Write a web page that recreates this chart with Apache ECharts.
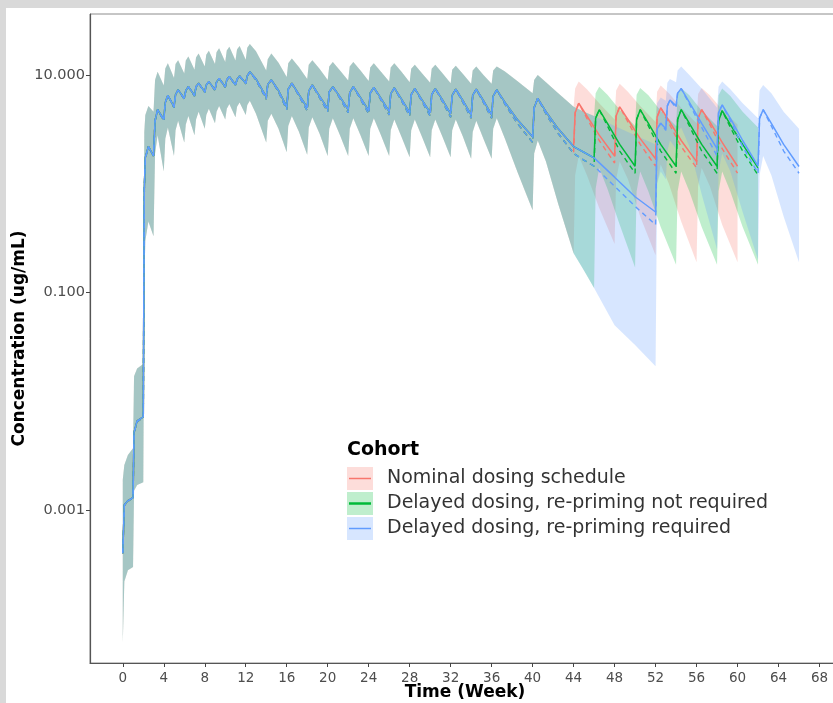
<!DOCTYPE html>
<html>
<head>
<meta charset="utf-8">
<script src="https://cdn.jsdelivr.net/npm/echarts@6/dist/echarts.min.js"></script>
<style>
  html, body { margin: 0; padding: 0; background: #ffffff; }
  #chart { width: 833px; height: 703px; }
</style>
</head>
<body>
<div id="chart"></div>
<script>
// Axis ticks
const xTicks = [0, 4, 8, 12, 16, 20, 24, 28, 32, 36, 40, 44, 48, 52, 56, 60, 64, 68];
const yTicks = [0.001, 0.1, 10];

// Common profile for all cohorts up to week 44 (priming, weekly, q2w, q4w)
const sharedTime = [
  0, 0.15, 0.5, 1.0, 1.1, 1.4, 2.0, 2.1, 2.2, 2.5,
  3.0, 3.15, 3.4, 4.0, 4.15, 4.4, 5.0, 5.15, 5.4, 6.0, 6.15, 6.4, 7.0, 7.15, 7.4,
  8.0, 8.15, 8.4, 9.0, 9.15, 9.4, 10.0, 10.15, 10.4, 11.0, 11.15, 11.4,
  12.0, 12.15, 12.4, 13.0, 14.0, 14.15, 14.5, 15.2, 16.0, 16.15, 16.5, 17.2,
  18.0, 18.15, 18.5, 19.2, 20.0, 20.15, 20.5, 21.2, 22.0, 22.15, 22.5, 23.2,
  24.0, 24.15, 24.5, 25.2, 26.0, 26.15, 26.5, 27.2, 28.0, 28.15, 28.5, 29.2,
  30.0, 30.15, 30.5, 31.2, 32.0, 32.15, 32.5, 33.2, 34.0, 34.15, 34.5, 35.2,
  36.0, 36.15, 36.5, 37.3, 38.5, 40.0, 40.15, 40.5, 41.3, 42.5, 44.0
];
const sharedMedian = [
  0.0004, 0.00112, 0.00122, 0.0013, 0.0052, 0.0066, 0.0072, 0.9, 1.75, 2.2,
  1.8, 3.8, 4.8, 3.9, 5.6, 6.5, 5.1, 6.6, 7.3, 6.1, 7.2, 7.8, 6.5, 7.8, 8.4,
  7.0, 8.1, 8.7, 7.3, 8.6, 9.3, 7.8, 9.0, 9.7, 8.1, 9.1, 9.8,
  8.4, 9.8, 10.7, 9.2, 6.3, 8.2, 9.0, 7.2, 5.1, 7.4, 8.4, 6.6,
  5.0, 7.1, 8.1, 6.4, 4.9, 7.0, 7.8, 6.3, 4.8, 6.9, 7.8, 6.2,
  4.7, 6.8, 7.7, 6.1, 4.6, 6.7, 7.6, 6.0, 4.5, 6.6, 7.5, 5.9,
  4.5, 6.6, 7.5, 5.9, 4.4, 6.5, 7.4, 5.8, 4.3, 6.5, 7.4, 5.8,
  4.3, 6.4, 7.3, 5.6, 3.9, 2.7, 5.0, 6.1, 4.6, 3.2, 2.2
];
const sharedDashed = [
  0.0004, 0.0011, 0.0012, 0.0013, 0.0051, 0.0065, 0.0071, 0.9, 1.7, 2.2,
  1.8, 3.8, 4.8, 3.8, 5.6, 6.5, 5.0, 6.6, 7.3, 6.0, 7.2, 7.8, 6.4, 7.8, 8.4,
  6.9, 8.1, 8.7, 7.2, 8.6, 9.3, 7.7, 9.0, 9.7, 8.0, 9.1, 9.8,
  8.3, 9.8, 10.7, 9.0, 6.0, 8.2, 9.0, 7.0, 4.8, 7.4, 8.4, 6.4,
  4.7, 7.1, 8.1, 6.2, 4.6, 7.0, 7.8, 6.1, 4.5, 6.9, 7.8, 6.0,
  4.4, 6.8, 7.7, 5.9, 4.3, 6.7, 7.6, 5.8, 4.2, 6.6, 7.5, 5.7,
  4.2, 6.6, 7.5, 5.7, 4.1, 6.5, 7.4, 5.6, 4.0, 6.5, 7.4, 5.6,
  4.0, 6.4, 7.3, 5.4, 3.6, 2.4, 5.0, 6.1, 4.4, 2.9, 1.9
];
const sharedLow = [
  0.00006, 0.00022, 0.00028, 0.0003, 0.0015, 0.0017, 0.0018, 0.12, 0.30, 0.45,
  0.33, 1.9, 2.8, 1.3, 2.6, 3.3, 1.8, 3.1, 3.8, 2.4, 3.5, 4.2, 2.8, 3.9, 4.6,
  3.2, 4.3, 4.9, 3.6, 4.6, 5.2, 3.9, 4.9, 5.4, 4.1, 5.1, 5.6,
  4.3, 5.3, 5.8, 4.4, 2.4, 3.8, 4.4, 3.2, 1.95, 3.4, 4.2, 3.0,
  1.85, 3.3, 4.1, 2.9, 1.8, 3.2, 4.0, 2.8, 1.8, 3.2, 4.0, 2.8,
  1.8, 3.2, 4.0, 2.8, 1.8, 3.1, 3.9, 2.7, 1.75, 3.1, 3.9, 2.7,
  1.75, 3.1, 3.9, 2.7, 1.75, 3.1, 3.9, 2.7, 1.7, 3.0, 3.8, 2.6,
  1.7, 3.2, 4.0, 2.6, 1.3, 0.57, 1.9, 2.5, 1.6, 0.65, 0.23
];
const sharedHigh = [
  0.0019, 0.0026, 0.0032, 0.0037, 0.017, 0.020, 0.022, 3.0, 4.3, 5.2,
  4.6, 9.0, 10.7, 8.0, 11.5, 12.8, 9.4, 12.6, 13.7, 10.3, 13.6, 14.8, 11.2, 14.5, 15.8,
  12.0, 15.4, 16.7, 12.6, 16.2, 17.6, 13.2, 16.8, 18.2, 13.6, 17.2, 18.5,
  13.8, 17.8, 19.3, 16.5, 11.0, 14.0, 15.8, 13.0, 9.6, 12.8, 14.2, 11.8,
  9.2, 12.4, 13.7, 11.4, 9.0, 12.0, 13.2, 11.0, 8.9, 12.0, 13.2, 11.0,
  8.8, 11.7, 12.8, 10.7, 8.7, 11.7, 12.8, 10.7, 8.6, 11.4, 12.4, 10.4,
  8.5, 11.4, 12.4, 10.4, 8.4, 11.2, 12.2, 10.2, 8.3, 11.0, 12.0, 10.0,
  8.3, 11.0, 12.0, 10.8, 8.8, 6.8, 9.0, 10.0, 8.6, 6.8, 5.1
];

// Nominal dosing schedule after week 44
const nominalTime = [44.15, 44.5, 45.3, 46.5, 48.0, 48.15, 48.5, 49.3, 50.5, 52.0,
  52.15, 52.5, 53.3, 54.5, 56.0, 56.15, 56.5, 57.3, 58.5, 60.0];
const nominalMedian = [4.5, 5.5, 4.2, 2.8, 1.8, 4.2, 5.1, 3.9, 2.6, 1.7,
  4.1, 5.0, 3.8, 2.5, 1.6, 4.0, 4.8, 3.7, 2.4, 1.45];
const nominalDashed = [4.5, 5.5, 4.0, 2.5, 1.55, 4.2, 5.1, 3.7, 2.3, 1.45,
  4.1, 5.0, 3.6, 2.2, 1.4, 4.0, 4.8, 3.5, 2.1, 1.25];
const nominalLow = [1.2, 1.8, 1.2, 0.6, 0.28, 1.1, 1.6, 1.1, 0.5, 0.22,
  1.0, 1.5, 1.0, 0.45, 0.19, 0.95, 1.4, 0.95, 0.42, 0.19];
const nominalHigh = [7.5, 8.7, 7.4, 5.5, 3.9, 7.2, 8.3, 7.0, 5.2, 3.7,
  7.0, 8.0, 6.8, 5.0, 3.6, 6.7, 7.6, 6.5, 4.8, 3.5];

// Delayed dosing, re-priming not required
const delayedTime = [45.0, 46.0, 46.15, 46.5, 47.3, 48.5, 50.0, 50.15, 50.5, 51.3, 52.5, 54.0,
  54.15, 54.5, 55.3, 56.5, 58.0, 58.15, 58.5, 59.3, 60.5, 62.0];
const delayedMedian = [1.95, 1.73, 4.0, 4.8, 3.6, 2.3, 1.45, 3.9, 4.8, 3.6, 2.3, 1.45,
  3.9, 4.8, 3.6, 2.3, 1.45, 3.8, 4.7, 3.5, 2.3, 1.4];
const delayedDashed = [1.65, 1.45, 4.0, 4.8, 3.4, 2.0, 1.25, 3.9, 4.8, 3.4, 2.0, 1.25,
  3.9, 4.8, 3.4, 2.0, 1.25, 3.8, 4.7, 3.3, 2.0, 1.2];
const delayedLow = [0.16, 0.11, 0.9, 1.4, 0.9, 0.42, 0.17, 0.85, 1.3, 0.85, 0.4, 0.18,
  0.85, 1.3, 0.85, 0.4, 0.18, 0.85, 1.3, 0.85, 0.4, 0.18];
const delayedHigh = [4.6, 4.2, 6.8, 7.8, 6.6, 4.8, 3.4, 6.6, 7.6, 6.5, 4.7, 3.4,
  6.6, 7.6, 6.5, 4.7, 3.4, 6.5, 7.5, 6.4, 4.6, 3.3];

// Delayed dosing, re-priming required
const reprimeTime = [45.0, 46.0, 48.0, 50.0, 52.0, 52.15, 52.5, 53.0, 53.15, 53.4, 54.0,
  54.15, 54.5, 55.3, 56.5, 58.0, 58.15, 58.5, 59.3, 60.5, 62.0,
  62.15, 62.5, 63.3, 64.5, 66.0];
const reprimeMedian = [1.95, 1.73, 1.15, 0.76, 0.55, 3.2, 3.6, 3.2, 5.2, 5.9, 5.2,
  6.8, 7.5, 5.6, 3.6, 2.1, 4.5, 5.3, 4.0, 2.5, 1.45,
  4.0, 4.8, 3.6, 2.3, 1.44];
const reprimeDashed = [1.65, 1.45, 0.95, 0.62, 0.42, 3.2, 3.6, 3.1, 5.2, 5.9, 5.0,
  6.8, 7.5, 5.4, 3.3, 1.8, 4.5, 5.3, 3.8, 2.2, 1.25,
  4.0, 4.8, 3.4, 2.0, 1.25];
const reprimeLow = [0.16, 0.11, 0.05, 0.033, 0.021, 1.0, 1.3, 1.1, 2.0, 2.5, 2.1,
  3.0, 3.3, 2.2, 0.8, 0.25, 1.3, 1.9, 1.3, 0.55, 0.2,
  1.2, 1.8, 1.2, 0.5, 0.19];
const reprimeHigh = [4.6, 4.2, 3.4, 2.8, 2.3, 5.5, 6.2, 5.8, 8.5, 9.2, 8.6,
  11.0, 12.0, 10.0, 7.5, 5.0, 7.8, 8.7, 7.4, 5.5, 4.0,
  7.2, 8.1, 6.8, 4.6, 3.2];

const cohortNames = [
  'Nominal dosing schedule',
  'Delayed dosing, re-priming not required',
  'Delayed dosing, re-priming required'
];
const cohortColors = ['#F8766D', '#00BA38', '#619CFF'];
const cohortFills = ['rgba(248,118,109,0.25)', 'rgba(0,186,56,0.25)', 'rgba(97,156,255,0.25)'];

const cohorts = [
  { t: nominalTime, med: nominalMedian, dash: nominalDashed, lo: nominalLow, hi: nominalHigh },
  { t: delayedTime, med: delayedMedian, dash: delayedDashed, lo: delayedLow, hi: delayedHigh },
  { t: reprimeTime, med: reprimeMedian, dash: reprimeDashed, lo: reprimeLow, hi: reprimeHigh }
].map(c => ({
  t: sharedTime.concat(c.t),
  med: sharedMedian.concat(c.med),
  dash: sharedDashed.concat(c.dash),
  lo: sharedLow.concat(c.lo),
  hi: sharedHigh.concat(c.hi)
}));

function ribbon(c, fill, name) {
  return {
    type: 'custom',
    name: name + ' band',
    coordinateSystem: 'cartesian2d',
    silent: true,
    clip: true,
    z: 1,
    data: [[c.t[0], c.hi[0]]],
    renderItem: function (params, api) {
      const pts = [];
      for (let i = 0; i < c.t.length; i++) pts.push(api.coord([c.t[i], c.hi[i]]));
      for (let i = c.t.length - 1; i >= 0; i--) pts.push(api.coord([c.t[i], c.lo[i]]));
      return { type: 'polygon', shape: { points: pts }, style: { fill: fill, stroke: null } };
    }
  };
}

function line(t, v, color, dashed, name) {
  return {
    type: 'line',
    name: name,
    data: t.map((x, i) => [x, v[i]]),
    showSymbol: false,
    silent: true,
    z: 3,
    color: color,
    lineStyle: { color: color, width: dashed ? 1.4 : 1.5, type: dashed ? [5, 4] : 'solid' },
    emphasis: { disabled: true },
    animation: false
  };
}

const series = [];
cohorts.forEach((c, k) => series.push(ribbon(c, cohortFills[k], cohortNames[k])));
cohorts.forEach((c, k) => {
  series.push(line(c.t, c.dash, cohortColors[k], true, cohortNames[k] + ' (dashed)'));
  series.push(line(c.t, c.med, cohortColors[k], false, cohortNames[k]));
});

// Legend drawn as swatches with a centre line
const legendGraphics = [
  { type: 'text', left: 347, top: 441, style: { text: 'Cohort', font: 'bold 19px "DejaVu Sans"', fill: '#000' } }
];
cohortNames.forEach((n, i) => {
  const y = 467 + i * 25;
  legendGraphics.push({ type: 'rect', shape: { x: 347, y: y, width: 26, height: 23 }, style: { fill: cohortFills[i] } });
  legendGraphics.push({ type: 'line', shape: { x1: 349, y1: y + 11.5, x2: 371, y2: y + 11.5 }, style: { stroke: cohortColors[i], lineWidth: i === 1 ? 2.5 : 1.5 } });
  legendGraphics.push({ type: 'text', left: 387, top: y + 2, style: { text: n, font: '19px "DejaVu Sans"', fill: '#333' } });
});

const chart = echarts.init(document.getElementById('chart'), null, { renderer: 'canvas' });
chart.setOption({
  animation: false,
  backgroundColor: '#ffffff',
  grid: {
    left: 90, top: 14, width: 750, bottom: 40,
    outerBoundsMode: 'none', containLabel: false,
    show: true, borderColor: '#8c8c8c', borderWidth: 1, backgroundColor: 'transparent'
  },
  xAxis: {
    type: 'value', min: -3.2, max: 70,
    name: 'Time (Week)', nameLocation: 'middle', nameGap: 21, nameMoveOverlap: false,
    nameTextStyle: { fontFamily: 'DejaVu Sans', fontWeight: 'bold', fontSize: 17, color: '#000' },
    axisLine: { show: true, onZero: false, lineStyle: { color: '#555', width: 1.2 } },
    axisTick: { show: true, length: 4, customValues: xTicks, lineStyle: { color: '#444' } },
    axisLabel: { customValues: xTicks, fontFamily: 'DejaVu Sans', fontSize: 13.5, color: '#4d4d4d', margin: 8 },
    splitLine: { show: false }
  },
  yAxis: {
    type: 'log', logBase: 10, min: 3.92e-5, max: 36.4,
    name: 'Concentration (ug/mL)', nameLocation: 'middle', nameGap: 62, nameRotate: 90, nameMoveOverlap: false,
    nameTextStyle: { fontFamily: 'DejaVu Sans', fontWeight: 'bold', fontSize: 17, color: '#000' },
    axisLine: { show: true, onZero: false, lineStyle: { color: '#555', width: 1.2 } },
    axisTick: { show: true, length: 4, customValues: yTicks, lineStyle: { color: '#444' } },
    axisLabel: { customValues: yTicks, fontFamily: 'DejaVu Sans', fontSize: 14.5, color: '#4d4d4d', margin: 5,
      formatter: v => Number(v).toFixed(3) },
    splitLine: { show: false }
  },
  graphic: [
    { type: 'rect', shape: { x: 0, y: 0, width: 833, height: 8 }, style: { fill: '#d9d9d9' }, z: 100 },
    { type: 'rect', shape: { x: 0, y: 0, width: 6, height: 703 }, style: { fill: '#d9d9d9' }, z: 100 }
  ].concat(legendGraphics),
  series: series
});
</script>
</body>
</html>
